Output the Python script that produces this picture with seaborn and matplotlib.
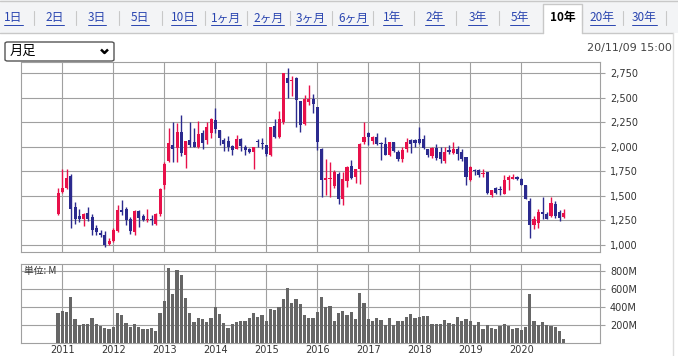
import numpy as np
import pandas as pd
import seaborn as sns
import matplotlib.pyplot as plt
from matplotlib.patches import Rectangle, FancyBboxPatch
from matplotlib.lines import Line2D

# monthly candles, Dec 2010 .. Nov 2020
months = pd.period_range("2010-12", "2020-11", freq="M")

opens = [1320, 1541, 1581, 1704, 1388, 1296, 1262, 1326, 1286, 1177, 1122, 1105, 1007,
         1041, 1143, 1361, 1371, 1269, 1133, 1344, 1296, 1258, 1269, 1211, 1320,
         1616, 1854, 2017, 1990, 2153, 1922, 2068, 2051, 2000, 2146, 2068, 2146,
         2272, 2170, 2068, 2058, 2007, 1983, 2078, 2000, 1976, 1949, 2058, 2041,
         2017, 1922, 2211, 2102, 2255, 2704, 2670, 2704, 2466, 2238, 2459, 2493,
         2408, 1976, 1660, 1670, 1602, 1728, 1473, 1650, 1806, 1694, 1772, 2051,
         2146, 2058, 2102, 2044, 2034, 1922, 2051, 1949, 1881, 1976, 2068, 2068,
         2078, 2078, 1976, 1908, 1990, 1949, 1854, 1966, 1942, 1976, 1949, 1898,
         1660, 1762, 1762, 1728, 1745, 1507, 1582, 1575, 1524, 1660, 1677, 1694,
         1670, 1616, 1446, 1207, 1228, 1337, 1320, 1296, 1422, 1337, 1286]
highs = [1581, 1772, 1772, 1728, 1439, 1371, 1330, 1388, 1320, 1201, 1150, 1139, 1071,
         1173, 1405, 1463, 1388, 1286, 1354, 1361, 1320, 1371, 1303, 1330, 1582,
         1847, 2194, 2255, 2248, 2323, 2061, 2255, 2194, 2262, 2170, 2255, 2296,
         2398, 2170, 2092, 2112, 2024, 2119, 2092, 2017, 1990, 2000, 2085, 2092,
         2024, 2204, 2282, 2364, 2748, 2806, 2724, 2714, 2466, 2527, 2629, 2534,
         2408, 1990, 1881, 1847, 1762, 1745, 1745, 1806, 1864, 1779, 2044, 2255,
         2153, 2112, 2146, 2051, 2102, 2051, 2051, 1966, 2000, 2092, 2078, 2078,
         2204, 2119, 1976, 2000, 2034, 2000, 2000, 2017, 2051, 2010, 1976, 1898,
         1806, 1772, 1772, 1772, 1745, 1558, 1592, 1602, 1711, 1711, 1728, 1704,
         1684, 1616, 1480, 1296, 1371, 1490, 1337, 1490, 1446, 1354, 1371]
lows = [1309, 1530, 1575, 1173, 1218, 1235, 1190, 1241, 1099, 1099, 1082, 980, 1003,
        1031, 1133, 1303, 1201, 1116, 1105, 1184, 1241, 1235, 1201, 1207, 1292,
        1575, 1847, 1847, 1847, 1908, 1786, 2000, 1997, 1990, 1983, 2034, 2092,
        2146, 2024, 1956, 1956, 1922, 1976, 1956, 1922, 1942, 1779, 2000, 1976,
        1908, 1908, 2092, 2092, 2238, 2500, 2520, 2204, 2153, 2228, 2425, 2350,
        1966, 1490, 1507, 1490, 1582, 1422, 1412, 1592, 1670, 1636, 1626, 2034,
        2024, 2034, 2024, 1864, 1915, 1908, 1949, 1854, 1847, 1949, 1942, 2000,
        2034, 1976, 1898, 1888, 1864, 1840, 1840, 1932, 1932, 1864, 1854, 1609,
        1653, 1711, 1694, 1694, 1524, 1490, 1524, 1507, 1524, 1558, 1670, 1660,
        1609, 1466, 1071, 1167, 1173, 1262, 1262, 1286, 1275, 1241, 1275]
closes = [1530, 1581, 1683, 1371, 1269, 1262, 1320, 1262, 1156, 1133, 1105, 1003, 1041,
          1150, 1361, 1337, 1252, 1143, 1344, 1275, 1258, 1269, 1255, 1320, 1575,
          1826, 2041, 1976, 2153, 1942, 2061, 2024, 1997, 2136, 2044, 2204, 2282,
          2187, 2092, 2034, 2000, 1966, 2078, 2010, 1966, 1949, 2000, 2048, 2027,
          1932, 2204, 2102, 2282, 2748, 2646, 2680, 2476, 2228, 2486, 2486, 2432,
          2051, 1660, 1684, 1684, 1745, 1473, 1677, 1796, 1684, 1772, 2034, 2102,
          2102, 2102, 2034, 2034, 1922, 2051, 1956, 1881, 1966, 2051, 2034, 2044,
          2044, 1990, 1915, 1990, 1888, 1881, 1949, 1949, 1976, 1932, 1881, 1694,
          1796, 1752, 1711, 1738, 1534, 1558, 1534, 1558, 1660, 1694, 1694, 1677,
          1616, 1473, 1207, 1269, 1337, 1320, 1269, 1432, 1296, 1275, 1330]
# volume in millions of shares
volumes = [333, 359, 348, 514, 270, 204, 215, 215, 281, 215, 192, 170, 159, 181,
           333, 315, 226, 181, 215, 181, 159, 159, 170, 137, 333, 470, 825, 537,
           803, 747, 503, 333, 237, 278, 270, 237, 278, 400, 326, 226, 170, 215,
           237, 248, 248, 281, 333, 292, 311, 248, 381, 370, 396, 492, 614, 448,
           492, 437, 315, 281, 281, 348, 514, 403, 414, 248, 337, 359, 315, 348,
           270, 548, 448, 270, 248, 281, 259, 204, 281, 204, 248, 248, 292, 326,
           281, 292, 303, 303, 215, 215, 215, 259, 226, 215, 292, 248, 270, 248,
           204, 237, 159, 204, 170, 159, 192, 215, 192, 159, 170, 148, 181, 537,
           248, 204, 237, 204, 192, 181, 137, 48]

year_labels = ["2011", "2012", "2013", "2014", "2015", "2016", "2017", "2018", "2019", "2020"]
price_ticks = [1000, 1250, 1500, 1750, 2000, 2250, 2500, 2750]
vol_ticks = [200, 400, 600, 800]
tabs = ["1日", "2日", "3日", "5日", "10日", "1ヶ月", "2ヶ月", "3ヶ月", "6ヶ月",
        "1年", "2年", "3年", "5年", "10年", "20年", "30年"]
tab_centers = [13.5, 55, 97, 140, 183.5, 226, 268.5, 310.5, 353,
               392.5, 434.5, 477.5, 519.5, 562.5, 602, 644.5]

df = pd.DataFrame({"open": opens, "high": highs, "low": lows,
                   "close": closes, "volume": volumes}, index=months)
df["m"] = (df.index.year - 2011) * 12 + (df.index.month - 1)

RED = "#e8104a"
BLUE = "#2b2a8e"
GRID = "#a0a0a0"
TXT = "#333333"
JP = ["Noto Sans CJK JP", "DejaVu Sans"]

sns.set_theme(style="white")
plt.rcParams["font.family"] = ["DejaVu Sans", "Noto Sans CJK JP"]

W, H = 678, 356
fig = plt.figure(figsize=(W / 100, H / 100), dpi=100)


def fx(x):
    return x / W


def fy(y):
    return 1 - y / H


# header tab bar
fig.patches.append(Rectangle((0, fy(33)), 1, 33 / H, transform=fig.transFigure,
                             facecolor="#f3f4f6", edgecolor="none", zorder=0))
fig.add_artist(Line2D([0, 1], [fy(1), fy(1)], color="#c8c8c8", lw=1))
fig.add_artist(Line2D([0, fx(543)], [fy(33), fy(33)], color="#c8c8c8", lw=1))
fig.add_artist(Line2D([fx(582), fx(673)], [fy(33), fy(33)], color="#c8c8c8", lw=1))
fig.patches.append(Rectangle((fx(543), fy(33)), 39 / W, 29 / H, transform=fig.transFigure,
                             facecolor="white", edgecolor="none", zorder=1))
fig.add_artist(Line2D([fx(543), fx(543), fx(582), fx(582)],
                      [fy(33), fy(4), fy(4), fy(33)], color="#c8c8c8", lw=1))
fig.add_artist(Line2D([fx(673), fx(673)], [fy(33), fy(356)], color="#dddddd", lw=1))

tab_texts = []
for name, cx in zip(tabs, tab_centers):
    if name == "10年":
        fig.text(fx(cx), fy(18), name, ha="center", va="center", fontsize=8.5,
                 family=JP, color="black", fontweight="bold")
    else:
        t = fig.text(fx(cx), fy(18), name, ha="center", va="center", fontsize=8.5,
                     family=JP, color="#2a45b0")
        tab_texts.append(t)
for a, b in zip(tab_centers[:-1], tab_centers[1:]):
    if a > 540 and b < 590 or 519 < a < 530:
        continue
    sx = (a + b) / 2
    fig.add_artist(Line2D([fx(sx), fx(sx)], [fy(11), fy(25)], color="#c8c8c8", lw=0.8))
sx = 666
fig.add_artist(Line2D([fx(sx), fx(sx)], [fy(11), fy(25)], color="#c8c8c8", lw=0.8))

# dropdown and timestamp
fig.patches.append(FancyBboxPatch((fx(5), fy(61)), 109 / W, 19 / H,
                                  boxstyle="round,pad=0,rounding_size=0.004",
                                  transform=fig.transFigure, facecolor="white",
                                  edgecolor="#555555", lw=1))
fig.text(fx(10), fy(51.5), "月足", ha="left", va="center", fontsize=9.5, family=JP,
         color="black")
fig.add_artist(Line2D([fx(101), fx(104.5), fx(108)], [fy(49.5), fy(53), fy(49.5)],
                      color="black", lw=1.8, solid_capstyle="butt"))
fig.text(fx(672), fy(48), "20/11/09 15:00", ha="right", va="center", fontsize=8,
         color="#444444")

xlim = (-9.65, 126.6)
year_pos = list(range(0, 120, 12))

# price panel
ax = fig.add_axes([fx(21.3), fy(251.7), (600.3 - 21.3) / W, (251.7 - 62.3) / H])
x = df["m"].to_numpy()
o = df["open"].to_numpy()
c = df["close"].to_numpy()
cols = np.where(c >= o, RED, BLUE)
ax.vlines(x, df["low"], df["high"], color=cols, lw=1.0, zorder=3)
body = np.maximum(np.abs(c - o), 9)
ax.bar(x, body, bottom=np.minimum(o, c) - (body - np.abs(c - o)) / 2, width=0.72,
       color=cols, zorder=4, linewidth=0)
ax.set_xlim(*xlim)
ax.set_ylim(932, 2862)
ax.set_xticks(year_pos)
ax.set_xticklabels([])
ax.set_yticks(price_ticks)
ax.set_yticklabels([f"{v:,}" for v in price_ticks])
ax.yaxis.tick_right()
ax.tick_params(axis="y", right=True, length=3.5, width=0.8, color=GRID, pad=3.5,
               labelsize=7, labelcolor=TXT)
ax.tick_params(axis="x", length=0)
ax.grid(True, color=GRID, lw=0.8)
ax.set_axisbelow(True)
for s in ax.spines.values():
    s.set_color(GRID)
    s.set_linewidth(0.8)

# volume panel
ax2 = fig.add_axes([fx(21.3), fy(343), (600.3 - 21.3) / W, (343 - 264) / H])
sns.barplot(data=df, x="m", y="volume", native_scale=True, color="#666666",
            saturation=1, width=0.76, errorbar=None, ax=ax2, zorder=3,
            linewidth=0, edgecolor="none")
ax2.set_xlim(*xlim)
ax2.set_ylim(0, 874)
ax2.set_xlabel("")
ax2.set_ylabel("")
ax2.set_xticks(year_pos)
ax2.set_xticklabels(year_labels)
ax2.set_yticks(vol_ticks)
ax2.set_yticklabels([f"{v}M" for v in vol_ticks])
ax2.yaxis.tick_right()
ax2.tick_params(axis="y", right=True, length=3.5, width=0.8, color=GRID, pad=3.5,
                labelsize=7, labelcolor=TXT)
ax2.tick_params(axis="x", length=0, pad=1.5, labelsize=7, labelcolor=TXT)
ax2.grid(True, color=GRID, lw=0.8)
ax2.set_axisbelow(True)
for s in ax2.spines.values():
    s.set_color(GRID)
    s.set_linewidth(0.8)
fig.text(fx(24), fy(271), "単位: M", ha="left", va="center", fontsize=7, family=JP,
         color=TXT)

# underline links
fig.canvas.draw()
r = fig.canvas.get_renderer()
for t in tab_texts:
    bb = t.get_window_extent(r)
    fig.add_artist(Line2D([bb.x0 / W, bb.x1 / W], [fy(25), fy(25)], color="#2a45b0",
                          lw=0.7))

fig.savefig("out.png", dpi=100)
